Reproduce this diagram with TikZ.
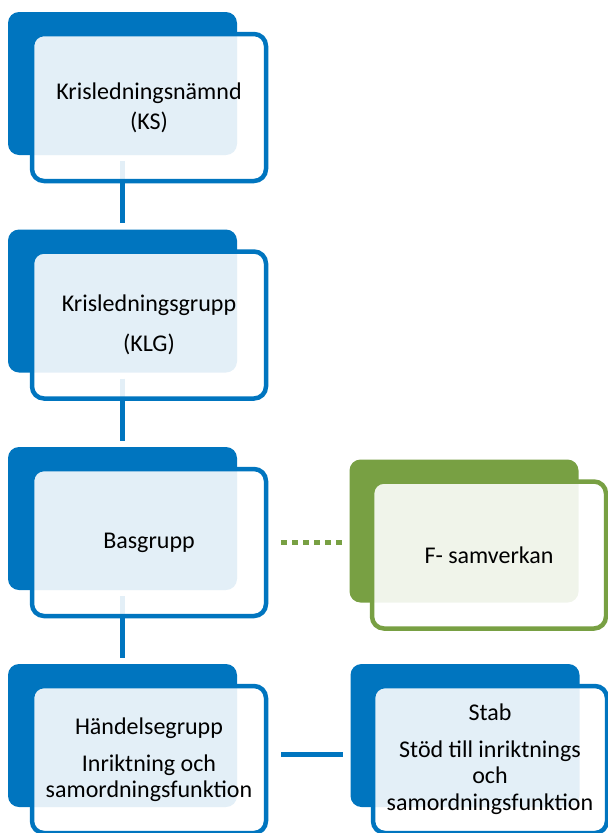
\documentclass[tikz,border=0pt]{standalone}
\usepackage{fontspec}
\setmainfont{Carlito}
\usetikzlibrary{positioning,backgrounds}
\definecolor{orgblue}{HTML}{0075BF}
\definecolor{orggreen}{HTML}{78A043}

\begin{document}
\begin{tikzpicture}[
    x=1pt, y=-1pt,
    backbox/.style={rectangle, fill=#1, rounded corners=11pt, minimum width=229pt, minimum height=143pt, inner sep=0pt},
    frontbox/.style={rectangle, draw=#1, line width=4.5pt, fill=white, fill opacity=0.89, text opacity=1, rounded corners=12pt, minimum width=234pt, minimum height=147pt, align=center, text=black, font=\fontsize{24}{26}\selectfont},
    link/.style={draw=orgblue, line width=5pt, shorten <=6pt, shorten >=6pt}
]
    \useasboundingbox (0,0) rectangle (608,833);

    % left column
    \node[backbox=orgblue] (ksB) at (122.5,83.5) {};
    \node[frontbox=orgblue] (ksF) at (149,107.5) {Krisledningsnämnd\\[4pt](KS)};
    \node[backbox=orgblue] (klgB) at (122.5,301) {};
    \node[frontbox=orgblue] (klgF) at (149,325) {Krisledningsgrupp\\[14pt](KLG)};
    \node[backbox=orgblue] (basB) at (122.5,518.5) {};
    \node[frontbox=orgblue] (basF) at (149,542.5) {Basgrupp};
    \node[backbox=orgblue] (hgB) at (122.5,735.5) {};
    \node[frontbox=orgblue] (hgF) at (149,759.5) {Händelsegrupp\\[11pt]Inriktning och\\samordningsfunktion};

    % right column
    \node[backbox=orggreen] (fsB) at (464,531) {};
    \node[frontbox=orggreen] (fsF) at (489,555) {F- samverkan};
    \node[backbox=orgblue] (stabB) at (465,735.5) {};
    \node[frontbox=orgblue] (stabF) at (490,759.5) {Stab\\[11pt]Stöd till inriktnings\\och\\[1pt]samordningsfunktion};

    \begin{scope}[on background layer]
        \draw[link] (ksB) -- (klgB);
        \draw[link] (klgB) -- (basB);
        \draw[link] (basB) -- (hgB);
    \end{scope}
    \draw[orggreen, line width=5pt, dash pattern=on 6pt off 5pt, shorten <=13pt, shorten >=7pt] (basF.east) -- (basF.east -| fsB.west);
    \draw[link, shorten <=13pt, shorten >=7pt] ([yshift=5pt]hgF.east) -- ([yshift=5pt]hgF.east -| stabB.west);
\end{tikzpicture}
\end{document}
